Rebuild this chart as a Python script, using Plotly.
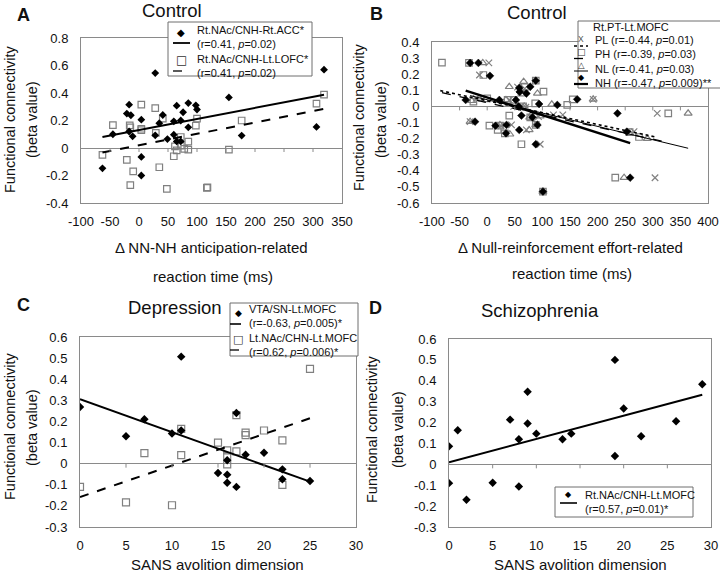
import plotly.graph_objects as go

# ---------------- data ----------------
# Panel A (Control): delta NN-NH anticipation-related RT (ms) vs functional connectivity
a_acc_x = [-63, -45, -17, -21, -14, -17, -11, 4, 4, 4, 28, 28, 35, 41, 49, 60, 60, 65, 65, 72,
           72, 76, 85, 85, 98, 100, 155, 177, 306, 319]
a_acc_y = [-0.148, 0.10, 0.315, 0.25, 0.238, 0.12, 0.085, 0.206, -0.065, -0.2, 0.545, 0.092, 0.18,
           0.24, 0.065, 0.097, 0.194, 0.308, 0.048, 0.048, 0.2, 0.26, 0.15, 0.327, 0.31, 0.28, 0.368,
           0.09, 0.153, 0.57]
a_lofc_x = [-63, -45, -21, -16, -15, -10, -15, 4, 4, 4, 28, 29, 35, 41, 48, 60, 62, 65, 72, 72,
            78, 85, 85, 98, 100, 117, 118, 155, 177, 306, 319]
a_lofc_y = [-0.05, 0.167, -0.087, 0.165, 0.15, -0.17, -0.27, 0.315, 0.14, 0.13, 0.29, 0.11, -0.14,
            0.213, -0.298, -0.06, 0.012, -0.017, 0.08, 0.017, -0.007, 0.046, -0.012, 0.162, 0.213,
            -0.29, -0.286, -0.012, 0.2, 0.322, 0.388]
a_fit_x = [-63, 319]
a_acc_fit_y = [0.08, 0.388]
a_lofc_fit_y = [-0.032, 0.284]

# Panel B (Control): delta null-reinforcement effort-related RT (ms) vs functional connectivity
b_pl_x = [-20, 3, -14, -31, 25, 40, 44, 48, 55, 60, 68, 70, 71, 80, 93, 96, 120, 137, 192, 266, 304, 308]
b_pl_y = [0.05, 0.27, 0.195, -0.095, -0.12, 0.04, -0.115, 0.0, 0.12, 0.0, 0.11, -0.005, -0.146,
          -0.07, -0.064, -0.235, -0.053, -0.053, 0.044, -0.157, -0.443, -0.043]
b_ph_x = [-82, -33, -7, -25, 0, 4, 19, 23, 32, 37, 40, 48, 62, 62, 65, 68, 78, 87, 88, 88, 102,
          101, 145, 155, 232, 258, 275, 328]
b_ph_y = [0.272, 0.27, 0.195, 0.03, 0.05, -0.12, -0.146, -0.12, -0.167, 0.04, -0.057, 0.04, 0.085,
          -0.235, 0.0, 0.12, -0.068, 0.019, -0.115, 0.16, 0.092, -0.529, 0.009, 0.044, -0.443, -0.16,
          -0.19, -0.043]
b_nl_x = [-8, -28, -15, -31, 23, 34, 40, 41, 60, 66, 67, 76, 77, 88, 91, 96, 101, 117, 192, 248,
          258, 290, 364]
b_nl_y = [0.27, 0.035, 0.05, -0.095, -0.115, 0.04, 0.122, -0.173, 0.1, 0.154, 0.0, -0.146, -0.068,
          -0.115, 0.081, -0.06, -0.529, 0.013, 0.044, -0.443, -0.167, -0.2, -0.043]
b_nh_x = [-39, -31, -16, 5, -22, 15, 22, 35, 34, 52, 57, 62, 58, 58, 59, 71, 78, 82, 88, 88, 91,
          94, 101, 127, 163, 236, 253, 259]
b_nh_y = [0.04, 0.27, 0.27, 0.19, -0.095, -0.12, 0.04, -0.115, -0.167, 0.04, 0.0, -0.057, -0.146,
          0.115, 0.09, 0.08, 0.122, -0.068, 0.16, -0.235, -0.115, 0.015, -0.529, 0.009, 0.044,
          -0.043, -0.157, -0.443]
b_pl_fit_x, b_pl_fit_y = [-85, 305], [0.098, -0.19]
b_ph_fit_x, b_ph_fit_y = [-82, 328], [0.085, -0.225]
b_nl_fit_x, b_nl_fit_y = [-31, 364], [0.067, -0.26]
b_nh_fit_x, b_nh_fit_y = [-39, 259], [0.098, -0.228]

# Panel C (Depression): SANS avolition dimension vs functional connectivity
c_vta_x = [0, 5, 7, 10, 11, 11, 15, 16, 16, 16, 17, 17, 18, 20, 22, 22, 25]
c_vta_y = [0.268, 0.13, 0.21, 0.143, 0.507, 0.157, -0.044, 0.016, -0.052, -0.09, -0.11, 0.24,
           0.042, 0.052, -0.027, -0.074, -0.082]
c_nac_x = [0, 5, 7, 10, 11, 11, 15, 16, 16, 16, 17, 17, 18, 18, 20, 22, 22, 25]
c_nac_y = [-0.11, -0.183, 0.05, -0.197, 0.165, 0.04, 0.1, 0.063, 0.036, -0.003, 0.23, 0.058,
           0.147, 0.135, 0.157, 0.11, -0.1, 0.449]
c_fit_x = [0, 25]
c_vta_fit_y = [0.305, -0.085]
c_nac_fit_y = [-0.158, 0.215]

# Panel D (Schizophrenia)
d_x = [0, 1, 0, 2, 5, 7, 8, 8, 9, 9, 10, 13, 14, 19, 19, 20, 22, 26, 29]
d_y = [0.086, 0.163, -0.09, -0.17, -0.088, 0.214, 0.12, -0.106, 0.347, 0.195, 0.147, 0.12, 0.147,
       0.5, 0.04, 0.267, 0.134, 0.206, 0.383]
d_fit_x = [0, 29]
d_fit_y = [0.01, 0.333]

# tick values
a_xticks = [-100, -50, 0, 50, 100, 150, 200, 250, 300, 350]
a_yticks = [-0.4, -0.2, 0, 0.2, 0.4, 0.6, 0.8]
b_xticks = [-100, -50, 0, 50, 100, 150, 200, 250, 300, 350, 400]
b_yticks = [-0.6, -0.5, -0.4, -0.3, -0.2, -0.1, 0, 0.1, 0.2, 0.3, 0.4]
cd_xticks = [0, 5, 10, 15, 20, 25, 30]
cd_yticks = [-0.3, -0.2, -0.1, 0, 0.1, 0.2, 0.3, 0.4, 0.5, 0.6]

# ---------------- styling ----------------
W, H = 720, 580
FONT = "Liberation Sans, Arial, Helvetica, sans-serif"
SYM = "DejaVu Sans, Liberation Sans, sans-serif"
BOX = "#8a8a8a"
GRAY = "#808080"


def px(x):
    return x / W


def py(y):
    return 1 - y / H


def fmt(v):
    return f"{v:g}"


fig = go.Figure()


def line(xs, ys, xa, ya, dash="solid", width=2, color="black"):
    fig.add_trace(go.Scatter(x=xs, y=ys, mode="lines", xaxis=xa, yaxis=ya, showlegend=False,
                             hoverinfo="skip", line=dict(color=color, width=width, dash=dash)))


def pts(xs, ys, xa, ya, symbol, size, color, lw=1):
    fig.add_trace(go.Scatter(x=xs, y=ys, mode="markers", xaxis=xa, yaxis=ya, showlegend=False,
                             marker=dict(symbol=symbol, size=size, color=color,
                                         line=dict(color=color, width=lw))))


# Panel A
pts(a_lofc_x, a_lofc_y, "x", "y", "square-open", 6.5, GRAY, 1.2)
line(a_fit_x, a_acc_fit_y, "x", "y", "solid", 2)
line(a_fit_x, a_lofc_fit_y, "x", "y", "dash", 2)
pts(a_acc_x, a_acc_y, "x", "y", "diamond", 6, "black", 0)

# Panel B
pts(b_pl_x, b_pl_y, "x2", "y2", "x-thin-open", 6.5, GRAY, 1.2)
pts(b_ph_x, b_ph_y, "x2", "y2", "square-open", 6.5, GRAY, 1.2)
pts(b_nl_x, b_nl_y, "x2", "y2", "triangle-up-open", 7, GRAY, 1.2)
line(b_nl_fit_x, b_nl_fit_y, "x2", "y2", "solid", 1)
line(b_ph_fit_x, b_ph_fit_y, "x2", "y2", "dash", 1.3)
line(b_pl_fit_x, b_pl_fit_y, "x2", "y2", "dot", 1.6)
line(b_nh_fit_x, b_nh_fit_y, "x2", "y2", "solid", 2.5)
pts(b_nh_x, b_nh_y, "x2", "y2", "diamond", 6, "black", 0.5)

# Panel C
pts(c_nac_x, c_nac_y, "x3", "y3", "square-open", 7, GRAY, 1.2)
line(c_fit_x, c_vta_fit_y, "x3", "y3", "solid", 2)
line(c_fit_x, c_nac_fit_y, "x3", "y3", "dash", 2)
pts(c_vta_x, c_vta_y, "x3", "y3", "diamond", 6.5, "black", 0)

# Panel D
line(d_fit_x, d_fit_y, "x4", "y4", "solid", 2)
pts(d_x, d_y, "x4", "y4", "diamond", 6.5, "black", 0)

panels = [
    ("", (81, 342), (38, 203), [-100, 350], [-0.4, 0.8], a_xticks, a_yticks),
    ("2", (432, 708), (42, 203), [-100, 400], [-0.6, 0.4], b_xticks, b_yticks),
    ("3", (80, 356), (337, 527), [0, 30], [-0.3, 0.6], cd_xticks, cd_yticks),
    ("4", (449, 711), (339, 527), [0, 30], [-0.3, 0.6], cd_xticks, cd_yticks),
]

shapes = []
for sfx, xd, yd, xr, yr, xt, yt in panels:
    fig.layout["xaxis" + sfx] = dict(
        domain=[px(xd[0]), px(xd[1])], range=xr, anchor="y" + sfx, automargin=False,
        tickvals=xt, ticktext=[fmt(v) for v in xt], ticks="", ticklabelstandoff=6,
        ticklabeloverflow="allow",
        showline=True, mirror=True, linecolor=BOX, linewidth=1,
        showgrid=False, zeroline=False, tickfont=dict(family=FONT, size=13, color="#111"),
        fixedrange=True)
    fig.layout["yaxis" + sfx] = dict(
        domain=[py(yd[1]), py(yd[0])], range=yr, anchor="x" + sfx, automargin=False,
        tickvals=yt, ticktext=[fmt(v) for v in yt], ticks="", ticklabelstandoff=9,
        ticklabeloverflow="allow",
        showline=True, mirror=True, linecolor=BOX, linewidth=1,
        showgrid=False, zeroline=True, zerolinecolor=BOX, zerolinewidth=1,
        tickfont=dict(family=FONT, size=13, color="#111"), fixedrange=True)
    # small tick marks hanging under the zero line (Excel style)
    for t in xt[1:-1]:
        shapes.append(dict(type="line", xref="x" + sfx, yref="y" + sfx, x0=t, x1=t,
                           ysizemode="pixel", yanchor=0, y0=0, y1=-4,
                           line=dict(color=BOX, width=1)))

ann = []


def text(x, y, s, size=12, anchor="center", angle=0, bold=False, family=FONT, color="#111",
         align="left"):
    if bold:
        s = "<b>" + s + "</b>"
    ann.append(dict(x=px(x), y=py(y), xref="paper", yref="paper", text=s, showarrow=False,
                    xanchor=anchor, yanchor="middle", textangle=angle, align=align,
                    font=dict(family=family, size=size, color=color)))


# panel letters and titles
text(15, 15, "A", 18, "left", bold=True)
text(172, 11, "Control", 18.5)
text(368, 14, "B", 18, "left", bold=True)
text(537, 13, "Control", 18.5)
text(15, 305, "C", 18, "left", bold=True)
text(175, 307, "Depression", 18.5)
text(367, 308, "D", 18, "left", bold=True)
text(540, 310, "Schizophrenia", 18.5)

# axis titles
for xc, yc in [(10, 120), (359, 118), (10, 427), (372, 430)]:
    text(xc, yc, "Functional connectivity", 14.5, angle=-90)
for xc, yc in [(32, 120), (381, 120), (32, 428), (398, 430)]:
    text(xc, yc, "(beta value)", 14.5, angle=-90)
text(211, 248, "Δ NN-NH anticipation-related", 15)
text(213, 276, "reaction time (ms)", 15)
text(570, 248, "Δ Null-reinforcement effort-related", 15)
text(572, 273, "reaction time (ms)", 15)
text(217, 564, "SANS avolition dimension", 15)
text(580, 564, "SANS avolition dimension", 15)

# ---------------- hand-drawn legends ----------------
LEG_BORDER = "#6e6e6e"


def rect(x0, y0, x1, y1):
    shapes.append(dict(type="rect", xref="paper", yref="paper", x0=px(x0), x1=px(x1),
                       y0=py(y1), y1=py(y0), fillcolor="white",
                       line=dict(color=LEG_BORDER, width=1), layer="above"))


def sample(x0, x1, y, dash="solid", width=1.5):
    shapes.append(dict(type="line", xref="paper", yref="paper", x0=px(x0), x1=px(x1),
                       y0=py(y), y1=py(y), line=dict(color="black", width=width, dash=dash),
                       layer="above"))


# Legend A
rect(168, 22, 312, 76)
text(181, 32, "◆", 10, family=SYM, color="black")
sample(173, 190, 43, "solid", 1.8)
text(181, 60, "□", 12, family=SYM, color="#333")
sample(173, 190, 71, "dash", 1.3)
text(195, 51.5, "Rt.NAc/CNH-Rt.ACC*<br>(r=0.41, <i>p</i>=0.02)<br>Rt.NAc/CNH-Lt.LOFC*<br>"
     "(r=0.41, <i>p</i>=0.02)", 11, "left")

# Legend B
rect(578, 21, 722, 88)
text(631, 27, "Rt.PT-Lt.MOFC", 11)
text(581, 39, "X", 8.5, family=FONT, color="#555")
sample(574, 588, 46, "dot", 1.5)
text(581, 52, "□", 9, family=SYM, color="#333")
sample(574, 588, 58.5, "dash", 1.3)
text(581, 65, "△", 8.5, family=SYM, color="#333")
sample(574, 588, 71, "solid", 1)
text(581, 78, "◆", 8, family=SYM, color="black")
sample(574, 588, 84, "solid", 2.2)
text(593, 61.5, "PL (r=-0.44, <i>p</i>=0.01)<br>PH (r=-0.39, <i>p</i>=0.03)<br>"
     "NL (r=-0.41, <i>p</i>=0.03)<br>NH (r=-0.47, <i>p</i>=0.009)**", 11, "left")

# Legend C
rect(230, 303, 358, 356)
text(238, 313, "◆", 9, family=SYM, color="black")
sample(230, 241, 324, "solid", 1.6)
text(238, 340, "□", 11, family=SYM, color="#333")
sample(230, 241, 350, "dash", 1.3)
text(247, 330, "VTA/SN-Lt.MOFC<br>(r=-0.63, <i>p</i>=0.005)*<br>Lt.NAc/CHN-Lt.MOFC<br>"
     "(r=0.62, <i>p</i>=0.006)*", 11, "left")

# Legend D
rect(555, 487, 693, 517)
text(568, 494, "◆", 8, family=SYM, color="black")
sample(560, 577, 503, "solid", 1.6)
text(583, 501.5, "Rt.NAc/CNH-Lt.MOFC<br>(r=0.57, <i>p</i>=0.01)*", 11, "left")

fig.update_layout(
    width=W, height=H, margin=dict(l=0, r=0, t=0, b=0, autoexpand=False),
    paper_bgcolor="white", plot_bgcolor="white",
    font=dict(family=FONT, color="#111"),
    showlegend=False, shapes=shapes, annotations=ann,
)

fig.write_html("out.html", config={"displayModeBar": False},
               post_script="document.body.style.margin='0';")
